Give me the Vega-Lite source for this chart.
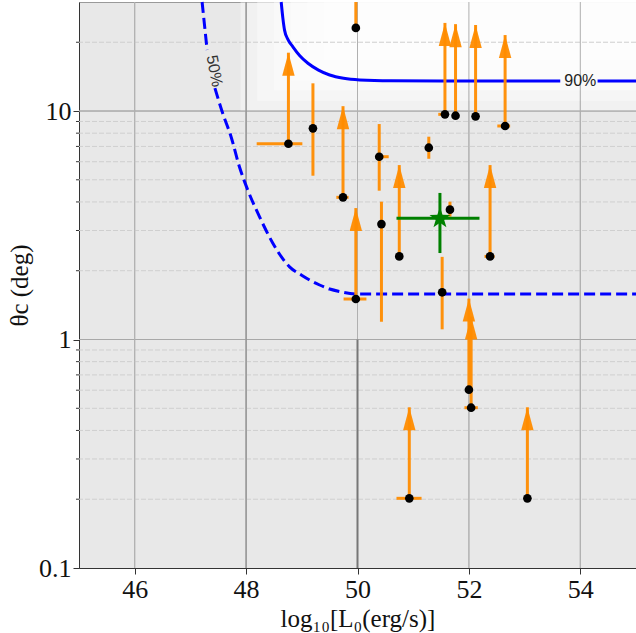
{
  "$schema": "https://vega.github.io/schema/vega-lite/v6.json",
  "width": 557,
  "height": 566,
  "autosize": {"type": "none"},
  "padding": {"left": 79, "top": 2, "right": 0, "bottom": 65},
  "background": "white",
  "view": {"fill": "#e8e8e8", "stroke": "#999999", "strokeWidth": 1},
  "config": {
    "axis": {
      "grid": false,
      "labelFont": "Liberation Serif",
      "titleFont": "Liberation Serif",
      "labelFontSize": 26,
      "titleFontSize": 25,
      "titleFontWeight": "normal",
      "labelColor": "#111111",
      "titleColor": "#111111",
      "domainColor": "#333333",
      "tickColor": "#333333",
      "tickSize": 6,
      "labelOverlap": false
    }
  },
  "datasets": {
    "shade": [
      {"x": 47.9, "x2": 55, "y": 10, "y2": 30},
      {"x": 48.2, "x2": 55, "y": 11.1, "y2": 30},
      {"x": 48.5, "x2": 55, "y": 12.3, "y2": 30},
      {"x": 48.8, "x2": 55, "y": 13.6, "y2": 30},
      {"x": 49.1, "x2": 55, "y": 15.1, "y2": 30},
      {"x": 49.4, "x2": 55, "y": 16.7, "y2": 30}
    ],
    "gridYminor": [{"y": 0.2}, {"y": 0.3}, {"y": 0.4}, {"y": 0.5}, {"y": 0.6}, {"y": 0.7}, {"y": 0.8}, {"y": 0.9}, {"y": 2}, {"y": 3}, {"y": 4}, {"y": 5}, {"y": 6}, {"y": 7}, {"y": 8}, {"y": 9}, {"y": 20}],
    "gridYmajor": [{"y": 1}, {"y": 10}],
    "gridX": [{"x": 46}, {"x": 48}, {"x": 50}, {"x": 52}, {"x": 54}],
    "dark48": [{"x": 48, "y": 0.1, "y2": 30}],
    "dark50": [{"x": 50, "y": 0.1, "y2": 1}],
    "yTicksMinor": [
      {"x": 44.946, "x2": 45, "y": 0.2}, {"x": 44.946, "x2": 45, "y": 0.3}, {"x": 44.946, "x2": 45, "y": 0.4},
      {"x": 44.946, "x2": 45, "y": 0.5}, {"x": 44.946, "x2": 45, "y": 0.6}, {"x": 44.946, "x2": 45, "y": 0.7},
      {"x": 44.946, "x2": 45, "y": 0.8}, {"x": 44.946, "x2": 45, "y": 0.9}, {"x": 44.946, "x2": 45, "y": 2},
      {"x": 44.946, "x2": 45, "y": 3}, {"x": 44.946, "x2": 45, "y": 4}, {"x": 44.946, "x2": 45, "y": 5},
      {"x": 44.946, "x2": 45, "y": 6}, {"x": 44.946, "x2": 45, "y": 7}, {"x": 44.946, "x2": 45, "y": 8},
      {"x": 44.946, "x2": 45, "y": 9}, {"x": 44.946, "x2": 45, "y": 20}
    ],
    "c90a": [
      {"x": 48.63, "y": 30}, {"x": 48.66, "y": 25.5}, {"x": 48.69, "y": 22.6}, {"x": 48.75, "y": 20.6}, {"x": 48.84, "y": 19.1},
      {"x": 48.96, "y": 17.5}, {"x": 49.11, "y": 16.18}, {"x": 49.3, "y": 15.1}, {"x": 49.5, "y": 14.37},
      {"x": 49.75, "y": 13.9}, {"x": 50.04, "y": 13.67}, {"x": 50.6, "y": 13.55}, {"x": 51.5, "y": 13.53}, {"x": 53.64, "y": 13.53}
    ],
    "c90b": [{"x": 54.31, "y": 13.53}, {"x": 55, "y": 13.53}],
    "c50a": [{"x": 47.21, "y": 30}, {"x": 47.3, "y": 18.5}],
    "c50b": [
      {"x": 47.44, "y": 12.6}, {"x": 47.58, "y": 9.77}, {"x": 47.73, "y": 7.72},
      {"x": 47.88, "y": 5.7}, {"x": 48.03, "y": 4.51}, {"x": 48.24, "y": 3.45},
      {"x": 48.48, "y": 2.64}, {"x": 48.78, "y": 2.08}, {"x": 48.99, "y": 1.916},
      {"x": 49.14, "y": 1.821}, {"x": 49.32, "y": 1.732}, {"x": 49.5, "y": 1.663},
      {"x": 49.68, "y": 1.622}, {"x": 50.04, "y": 1.58}, {"x": 55, "y": 1.58}
    ],
    "yerr": [
      {"x": 49.97, "y": 23.1, "y2": 30},
      {"x": 49.2, "y": 5.21, "y2": 13.22},
      {"x": 50.39, "y": 4.48, "y2": 8.77},
      {"x": 51.28, "y": 6.18, "y2": 7.72},
      {"x": 50.43, "y": 1.196, "y2": 4.01},
      {"x": 51.66, "y": 3.45, "y2": 4.01},
      {"x": 51.52, "y": 1.108, "y2": 2.3}
    ],
    "xerr": [
      {"y": 7.19, "x": 48.19, "x2": 49.01},
      {"y": 4.19, "x": 49.62, "x2": 49.84},
      {"y": 6.31, "x": 50.35, "x2": 50.56},
      {"y": 1.504, "x": 49.75, "x2": 50.16},
      {"y": 2.31, "x": 52.28, "x2": 52.46},
      {"y": 9.67, "x": 51.45, "x2": 51.58},
      {"y": 8.6, "x": 52.51, "x2": 52.74},
      {"y": 0.503, "x": 51.92, "x2": 52.16},
      {"y": 0.2018, "x": 50.7, "x2": 51.15}
    ],
    "arrows": [
      {"x": 48.76, "y": 7.19, "tip": 18.0},
      {"x": 49.74, "y": 4.19, "tip": 10.5},
      {"x": 50.75, "y": 2.31, "tip": 5.8},
      {"x": 49.97, "y": 1.504, "tip": 3.76},
      {"x": 52.38, "y": 2.31, "tip": 5.8},
      {"x": 51.57, "y": 9.67, "tip": 24.3},
      {"x": 51.76, "y": 9.54, "tip": 24.0},
      {"x": 52.12, "y": 9.48, "tip": 23.8},
      {"x": 52.65, "y": 8.6, "tip": 21.5},
      {"x": 52.0, "y": 0.603, "tip": 1.51},
      {"x": 52.04, "y": 0.503, "tip": 1.26},
      {"x": 50.93, "y": 0.2018, "tip": 0.505},
      {"x": 53.05, "y": 0.2018, "tip": 0.505}
    ],
    "dots": [
      {"x": 49.97, "y": 23.1}, {"x": 48.76, "y": 7.19}, {"x": 49.2, "y": 8.4}, {"x": 49.74, "y": 4.19},
      {"x": 50.39, "y": 6.31}, {"x": 51.28, "y": 6.91}, {"x": 50.43, "y": 3.2}, {"x": 50.75, "y": 2.31},
      {"x": 49.97, "y": 1.504}, {"x": 51.66, "y": 3.7}, {"x": 51.52, "y": 1.609}, {"x": 52.38, "y": 2.31},
      {"x": 51.57, "y": 9.67}, {"x": 51.76, "y": 9.54}, {"x": 52.12, "y": 9.48}, {"x": 52.65, "y": 8.6},
      {"x": 52.0, "y": 0.603}, {"x": 52.04, "y": 0.503}, {"x": 50.93, "y": 0.2018}, {"x": 53.05, "y": 0.2018}
    ],
    "starErr": [
      {"x": 50.7, "x2": 52.19, "y": 3.39, "y2": 3.39},
      {"x": 51.48, "x2": 51.48, "y": 2.39, "y2": 4.38}
    ],
    "star": [{"x": 51.48, "y": 3.39}],
    "label50": [{"x": 47.43, "y": 14.96, "text": "50%"}],
    "label90": [{"x": 54.0, "y": 13.53, "text": "90%"}]
  },
  "layer": [
    {
      "data": {"name": "gridX"},
      "mark": {"type": "rule", "color": "#b0b0b0", "strokeWidth": 1},
      "encoding": {
        "x": {"field": "x", "type": "quantitative", "scale": {"domain": [45, 55], "nice": false, "zero": false}, "title": "log₁₀[L₀(erg/s)]",
          "axis": {"values": [46, 48, 50, 52, 54], "format": "d", "labelPadding": 2, "titlePadding": 4}}
      }
    },
    {
      "data": {"name": "gridYmajor"},
      "mark": {"type": "rule", "color": "#a8a8a8", "strokeWidth": 1},
      "encoding": {
        "y": {"field": "y", "type": "quantitative", "scale": {"type": "log", "domain": [0.1, 30], "nice": false}, "title": "θc (deg)",
          "axis": {"values": [0.1, 1, 10], "format": "~g", "labelPadding": 2, "titlePadding": 6}}
      }
    },
    {
      "data": {"name": "shade"},
      "mark": {"type": "rect", "color": "#ffffff", "opacity": 0.4},
      "encoding": {
        "x": {"field": "x", "type": "quantitative", "title": "log₁₀[L₀(erg/s)]"},
        "x2": {"field": "x2"},
        "y": {"field": "y", "type": "quantitative", "title": "θc (deg)"},
        "y2": {"field": "y2"}
      }
    },
    {
      "data": {"name": "gridYminor"},
      "mark": {"type": "rule", "color": "#cfcfcf", "strokeWidth": 1, "strokeDash": [5, 2]},
      "encoding": {"y": {"field": "y", "type": "quantitative", "title": "θc (deg)"}}
    },
    {
      "data": {"name": "gridYmajor"},
      "mark": {"type": "rule", "color": "#a8a8a8", "strokeWidth": 1},
      "encoding": {"y": {"field": "y", "type": "quantitative", "title": "θc (deg)"}}
    },
    {
      "data": {"name": "gridX"},
      "mark": {"type": "rule", "color": "#b0b0b0", "strokeWidth": 1},
      "encoding": {"x": {"field": "x", "type": "quantitative", "title": "log₁₀[L₀(erg/s)]"}}
    },
    {
      "data": {"name": "dark48"},
      "mark": {"type": "rule", "color": "#8a8a8a", "strokeWidth": 1},
      "encoding": {
        "x": {"field": "x", "type": "quantitative", "title": "log₁₀[L₀(erg/s)]"},
        "y": {"field": "y", "type": "quantitative", "title": "θc (deg)"},
        "y2": {"field": "y2"}
      }
    },
    {
      "data": {"name": "dark50"},
      "mark": {"type": "rule", "color": "#777777", "strokeWidth": 2},
      "encoding": {
        "x": {"field": "x", "type": "quantitative", "title": "log₁₀[L₀(erg/s)]"},
        "y": {"field": "y", "type": "quantitative", "title": "θc (deg)"},
        "y2": {"field": "y2"}
      }
    },
    {
      "data": {"name": "yTicksMinor"},
      "mark": {"type": "rule", "color": "#333333", "strokeWidth": 1},
      "encoding": {
        "x": {"field": "x", "type": "quantitative", "title": "log₁₀[L₀(erg/s)]"},
        "x2": {"field": "x2"},
        "y": {"field": "y", "type": "quantitative", "title": "θc (deg)"}
      }
    },
    {
      "data": {"name": "c90a"},
      "mark": {"type": "line", "color": "#0000ff", "strokeWidth": 3, "interpolate": "monotone"},
      "encoding": {
        "x": {"field": "x", "type": "quantitative", "title": "log₁₀[L₀(erg/s)]"},
        "y": {"field": "y", "type": "quantitative", "title": "θc (deg)"}
      }
    },
    {
      "data": {"name": "c90b"},
      "mark": {"type": "line", "color": "#0000ff", "strokeWidth": 3},
      "encoding": {
        "x": {"field": "x", "type": "quantitative", "title": "log₁₀[L₀(erg/s)]"},
        "y": {"field": "y", "type": "quantitative", "title": "θc (deg)"}
      }
    },
    {
      "data": {"name": "c50a"},
      "mark": {"type": "line", "color": "#0000ff", "strokeWidth": 3, "strokeDash": [11, 5]},
      "encoding": {
        "x": {"field": "x", "type": "quantitative", "title": "log₁₀[L₀(erg/s)]"},
        "y": {"field": "y", "type": "quantitative", "title": "θc (deg)"}
      }
    },
    {
      "data": {"name": "c50b"},
      "mark": {"type": "line", "color": "#0000ff", "strokeWidth": 3, "strokeDash": [11, 5], "interpolate": "monotone"},
      "encoding": {
        "x": {"field": "x", "type": "quantitative", "title": "log₁₀[L₀(erg/s)]"},
        "y": {"field": "y", "type": "quantitative", "title": "θc (deg)"}
      }
    },
    {
      "data": {"name": "yerr"},
      "mark": {"type": "rule", "color": "#ff8c00", "strokeWidth": 3, "opacity": 0.95},
      "encoding": {
        "x": {"field": "x", "type": "quantitative", "title": "log₁₀[L₀(erg/s)]"},
        "y": {"field": "y", "type": "quantitative", "title": "θc (deg)"},
        "y2": {"field": "y2"}
      }
    },
    {
      "data": {"name": "xerr"},
      "mark": {"type": "rule", "color": "#ff8c00", "strokeWidth": 3, "opacity": 0.95},
      "encoding": {
        "x": {"field": "x", "type": "quantitative", "title": "log₁₀[L₀(erg/s)]"},
        "x2": {"field": "x2"},
        "y": {"field": "y", "type": "quantitative", "title": "θc (deg)"}
      }
    },
    {
      "data": {"name": "arrows"},
      "mark": {"type": "rule", "color": "#ff8c00", "strokeWidth": 3, "opacity": 0.95},
      "encoding": {
        "x": {"field": "x", "type": "quantitative", "title": "log₁₀[L₀(erg/s)]"},
        "y": {"field": "y", "type": "quantitative", "title": "θc (deg)"},
        "y2": {"field": "tip"}
      }
    },
    {
      "data": {"name": "arrows"},
      "mark": {"type": "point", "shape": "M0,0L0.27,1L-0.27,1Z", "size": 2116, "filled": true, "color": "#ff8c00", "opacity": 0.95, "strokeWidth": 0},
      "encoding": {
        "x": {"field": "x", "type": "quantitative", "title": "log₁₀[L₀(erg/s)]"},
        "y": {"field": "tip", "type": "quantitative", "title": "θc (deg)"}
      }
    },
    {
      "data": {"name": "starErr"},
      "mark": {"type": "rule", "color": "#008000", "strokeWidth": 3},
      "encoding": {
        "x": {"field": "x", "type": "quantitative", "title": "log₁₀[L₀(erg/s)]"},
        "x2": {"field": "x2"},
        "y": {"field": "y", "type": "quantitative", "title": "θc (deg)"},
        "y2": {"field": "y2"}
      }
    },
    {
      "data": {"name": "dots"},
      "mark": {"type": "point", "shape": "circle", "size": 75, "filled": true, "color": "#000000", "opacity": 1},
      "encoding": {
        "x": {"field": "x", "type": "quantitative", "title": "log₁₀[L₀(erg/s)]"},
        "y": {"field": "y", "type": "quantitative", "title": "θc (deg)"}
      }
    },
    {
      "data": {"name": "star"},
      "mark": {"type": "point", "shape": "M0,-1L0.2351,-0.3236L0.9511,-0.309L0.3804,0.1236L0.5878,0.809L0,0.4L-0.5878,0.809L-0.3804,0.1236L-0.9511,-0.309L-0.2351,-0.3236Z", "size": 484, "filled": true, "color": "#008000", "opacity": 1, "strokeWidth": 0},
      "encoding": {
        "x": {"field": "x", "type": "quantitative", "title": "log₁₀[L₀(erg/s)]"},
        "y": {"field": "y", "type": "quantitative", "title": "θc (deg)"}
      }
    },
    {
      "data": {"name": "label50"},
      "mark": {"type": "text", "font": "Liberation Sans", "fontSize": 16, "color": "#333333", "align": "center", "baseline": "middle", "angle": 79},
      "encoding": {
        "x": {"field": "x", "type": "quantitative", "title": "log₁₀[L₀(erg/s)]"},
        "y": {"field": "y", "type": "quantitative", "title": "θc (deg)"},
        "text": {"field": "text", "type": "nominal"}
      }
    },
    {
      "data": {"name": "label90"},
      "mark": {"type": "text", "font": "Liberation Sans", "fontSize": 16, "color": "#222222", "align": "center", "baseline": "middle"},
      "encoding": {
        "x": {"field": "x", "type": "quantitative", "title": "log₁₀[L₀(erg/s)]"},
        "y": {"field": "y", "type": "quantitative", "title": "θc (deg)"},
        "text": {"field": "text", "type": "nominal"}
      }
    }
  ]
}
